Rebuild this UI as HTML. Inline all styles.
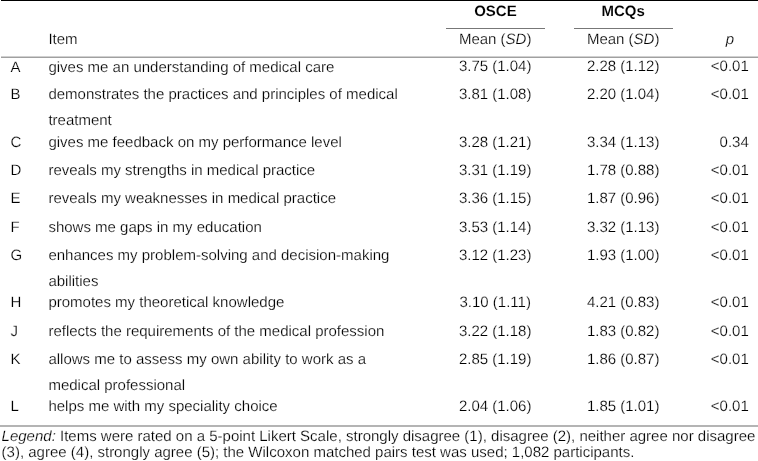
<!DOCTYPE html>
<html><head><meta charset="utf-8"><style>
html,body{margin:0;padding:0;background:#fff}
body{width:758px;height:461px;position:relative;overflow:hidden;font-family:"Liberation Sans",sans-serif;font-size:15px;color:#000;text-rendering:geometricPrecision;-webkit-text-stroke:0.2px #fff}
.t{position:absolute;height:18px;line-height:18px;white-space:nowrap}
.c{text-align:center}
.r{text-align:right}
.b{font-weight:bold;color:#000;-webkit-text-stroke:0.1px #fff}
.p{letter-spacing:0}
.l{position:absolute;background:#777;height:1px}
#w{position:absolute;left:0;top:0;width:758px;height:461px;will-change:transform;background:#fff}
</style></head><body><div id="w">
<div class="l" style="left:1px;top:0;width:757px;height:1px;background:#000"></div>
<div class="l" style="left:446px;top:28px;width:99px"></div>
<div class="l" style="left:574px;top:28px;width:99px"></div>
<div class="l" style="left:1px;top:56px;width:757px;background:#d0d0d0"></div>
<div class="l" style="left:1px;top:57px;width:757px;background:#a0a0a0"></div>
<div class="l" style="left:0;top:425px;width:758px;height:2px;background:#b4b4b4"></div>
<div class="t c b" style="left:395.4px;top:3px;width:200px">OSCE</div>
<div class="t c b" style="left:523.2px;top:3px;width:200px">MCQs</div>
<div class="t c " style="left:395.2px;top:31px;width:200px">Mean (<i>SD</i>)</div>
<div class="t c " style="left:523.2px;top:31px;width:200px">Mean (<i>SD</i>)</div>
<div class="t c " style="left:630px;top:31px;width:200px"><i>p</i></div>
<div class="t " style="left:48.4px;top:31px">Item</div>
<div class="t " style="left:10.6px;top:59px">A</div>
<div class="t " style="left:48.4px;top:59px">gives me an understanding of medical care</div>
<div class="t c " style="left:395.2px;top:58px;width:200px">3.75 (1.04)</div>
<div class="t c " style="left:523.2px;top:58px;width:200px">2.28 (1.12)</div>
<div class="t r p" style="left:548.8px;top:58px;width:200px">&lt;0.01</div>
<div class="t " style="left:10.6px;top:86px">B</div>
<div class="t " style="left:48.4px;top:86px">demonstrates the practices and principles of medical</div>
<div class="t " style="left:48.4px;top:112px">treatment</div>
<div class="t c " style="left:395.2px;top:86px;width:200px">3.81 (1.08)</div>
<div class="t c " style="left:523.2px;top:86px;width:200px">2.20 (1.04)</div>
<div class="t r p" style="left:548.8px;top:86px;width:200px">&lt;0.01</div>
<div class="t " style="left:10.6px;top:134px">C</div>
<div class="t " style="left:48.4px;top:134px">gives me feedback on my performance level</div>
<div class="t c " style="left:395.2px;top:134px;width:200px">3.28 (1.21)</div>
<div class="t c " style="left:523.2px;top:134px;width:200px">3.34 (1.13)</div>
<div class="t r p" style="left:548.8px;top:134px;width:200px">0.34</div>
<div class="t " style="left:10.6px;top:162px">D</div>
<div class="t " style="left:48.4px;top:162px">reveals my strengths in medical practice</div>
<div class="t c " style="left:395.2px;top:162px;width:200px">3.31 (1.19)</div>
<div class="t c " style="left:523.2px;top:162px;width:200px">1.78 (0.88)</div>
<div class="t r p" style="left:548.8px;top:162px;width:200px">&lt;0.01</div>
<div class="t " style="left:10.6px;top:190px">E</div>
<div class="t " style="left:48.4px;top:190px">reveals my weaknesses in medical practice</div>
<div class="t c " style="left:395.2px;top:190px;width:200px">3.36 (1.15)</div>
<div class="t c " style="left:523.2px;top:190px;width:200px">1.87 (0.96)</div>
<div class="t r p" style="left:548.8px;top:190px;width:200px">&lt;0.01</div>
<div class="t " style="left:10.6px;top:219px">F</div>
<div class="t " style="left:48.4px;top:219px">shows me gaps in my education</div>
<div class="t c " style="left:395.2px;top:219px;width:200px">3.53 (1.14)</div>
<div class="t c " style="left:523.2px;top:219px;width:200px">3.32 (1.13)</div>
<div class="t r p" style="left:548.8px;top:219px;width:200px">&lt;0.01</div>
<div class="t " style="left:10.6px;top:247px">G</div>
<div class="t " style="left:48.4px;top:247px">enhances my problem-solving and decision-making</div>
<div class="t " style="left:48.4px;top:273px">abilities</div>
<div class="t c " style="left:395.2px;top:247px;width:200px">3.12 (1.23)</div>
<div class="t c " style="left:523.2px;top:247px;width:200px">1.93 (1.00)</div>
<div class="t r p" style="left:548.8px;top:247px;width:200px">&lt;0.01</div>
<div class="t " style="left:10.6px;top:294px">H</div>
<div class="t " style="left:48.4px;top:294px">promotes my theoretical knowledge</div>
<div class="t c " style="left:395.2px;top:294px;width:200px">3.10 (1.11)</div>
<div class="t c " style="left:523.2px;top:294px;width:200px">4.21 (0.83)</div>
<div class="t r p" style="left:548.8px;top:294px;width:200px">&lt;0.01</div>
<div class="t " style="left:10.6px;top:323px">J</div>
<div class="t " style="left:48.4px;top:323px">reflects the requirements of the medical profession</div>
<div class="t c " style="left:395.2px;top:323px;width:200px">3.22 (1.18)</div>
<div class="t c " style="left:523.2px;top:323px;width:200px">1.83 (0.82)</div>
<div class="t r p" style="left:548.8px;top:323px;width:200px">&lt;0.01</div>
<div class="t " style="left:10.6px;top:351px">K</div>
<div class="t " style="left:48.4px;top:351px">allows me to assess my own ability to work as a</div>
<div class="t " style="left:48.4px;top:377px">medical professional</div>
<div class="t c " style="left:395.2px;top:351px;width:200px">2.85 (1.19)</div>
<div class="t c " style="left:523.2px;top:351px;width:200px">1.86 (0.87)</div>
<div class="t r p" style="left:548.8px;top:351px;width:200px">&lt;0.01</div>
<div class="t " style="left:10.6px;top:398px">L</div>
<div class="t " style="left:48.4px;top:398px">helps me with my speciality choice</div>
<div class="t c " style="left:395.2px;top:398px;width:200px">2.04 (1.06)</div>
<div class="t c " style="left:523.2px;top:398px;width:200px">1.85 (1.01)</div>
<div class="t r p" style="left:548.8px;top:398px;width:200px">&lt;0.01</div>
<div class="t " style="left:1.6px;top:428px"><i>Legend:</i> Items were rated on a 5-point Likert Scale, strongly disagree (1), disagree (2), neither agree nor disagree</div>
<div class="t " style="left:1.6px;top:444px">(3), agree (4), strongly agree (5); the Wilcoxon matched pairs test was used; 1,082 participants.</div>
</div></body></html>
